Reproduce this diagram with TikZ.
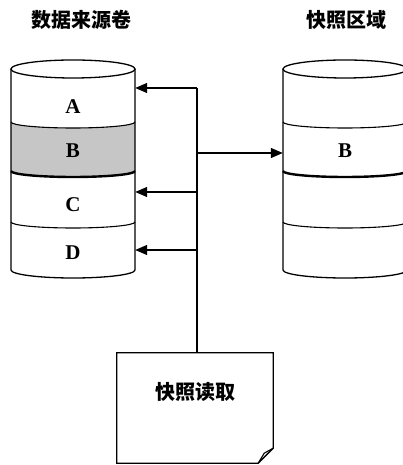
\documentclass[tikz,border=0pt]{standalone}
\usepackage{fontspec}
\newfontfamily\cjk{Noto Sans CJK SC}
\newfontfamily\blocklabel{Liberation Serif}
\usetikzlibrary{arrows.meta, calc}

\begin{document}
\begin{tikzpicture}[
    x=1pt, y=1pt,
    outline/.style={line width=1.3pt},
    divider/.style={line width=1.1pt},
    thickdivider/.style={line width=2.4pt},
    seg/.style={minimum width=124pt, minimum height=40pt, inner sep=0pt, font=\blocklabel\bfseries\fontsize{21}{23}\selectfont},
    title/.style={font=\cjk\bfseries\fontsize{20}{22}\selectfont},
    flow/.style={line width=1.3pt, -{Triangle[length=12pt, width=10pt]}},
    wire/.style={line width=1.3pt}
]
\useasboundingbox (0,0) rectangle (403,465);

% Titles
\node[title] (srcTitle) at (81,445) {数据来源卷};
\node[title] (snapTitle) at (346,445) {快照区域};

% Shaded block B of the source volume
\fill[gray!45] (11,343) arc[start angle=180, end angle=360, x radius=62, y radius=6]
    -- (135,294) arc[start angle=0, end angle=-180, x radius=62, y radius=6] -- cycle;

% Cylinders
\foreach \cx in {73, 345} {
    \draw[outline] (\cx,396) ellipse[x radius=62, y radius=9];
    \draw[outline] ({\cx-62},396) -- ({\cx-62},195)
        arc[start angle=180, end angle=360, x radius=62, y radius=8] -- ({\cx+62},396);
    \draw[divider] ({\cx-62},343) arc[start angle=180, end angle=360, x radius=62, y radius=6];
    \draw[thickdivider] ({\cx-62},294) arc[start angle=180, end angle=360, x radius=62, y radius=6];
    \draw[divider] ({\cx-62},243) arc[start angle=180, end angle=360, x radius=62, y radius=6];
}

% Blocks
\node[seg] (srcA) at (73,358) {A};
\node[seg] (srcB) at (73,314) {B};
\node[seg] (srcC) at (73,260) {C};
\node[seg] (srcD) at (73,212) {D};
\node[seg] (snapB) at (345,314) {B};

% Snapshot reader
\node[minimum width=156pt, minimum height=110pt, inner sep=0pt] (reader) at (195,57) {};
\draw[outline] (reader.north west) -- (reader.north east) -- ([yshift=15pt]reader.south east)
    -- ([xshift=-15pt]reader.south east) -- (reader.south west) -- cycle;
\draw[divider] ([xshift=-15pt]reader.south east) -- ([xshift=-9pt, yshift=10pt]reader.south east)
    -- ([yshift=15pt]reader.south east);
\node[title] (readerText) at (195,73) {快照读取};

% Connections
\coordinate (tapA) at (197,377);
\coordinate (tapB) at (197,312);
\coordinate (tapC) at (197,273);
\coordinate (tapD) at (197,215);
\draw[wire] (tapA) -- (tapA |- reader.north);
\draw[flow] (tapA) -- (tapA -| srcA.east);
\draw[flow] (tapB) -- (tapB -| snapB.west);
\draw[flow] (tapC) -- (tapC -| srcC.east);
\draw[flow] (tapD) -- (tapD -| srcD.east);

\end{tikzpicture}
\end{document}
